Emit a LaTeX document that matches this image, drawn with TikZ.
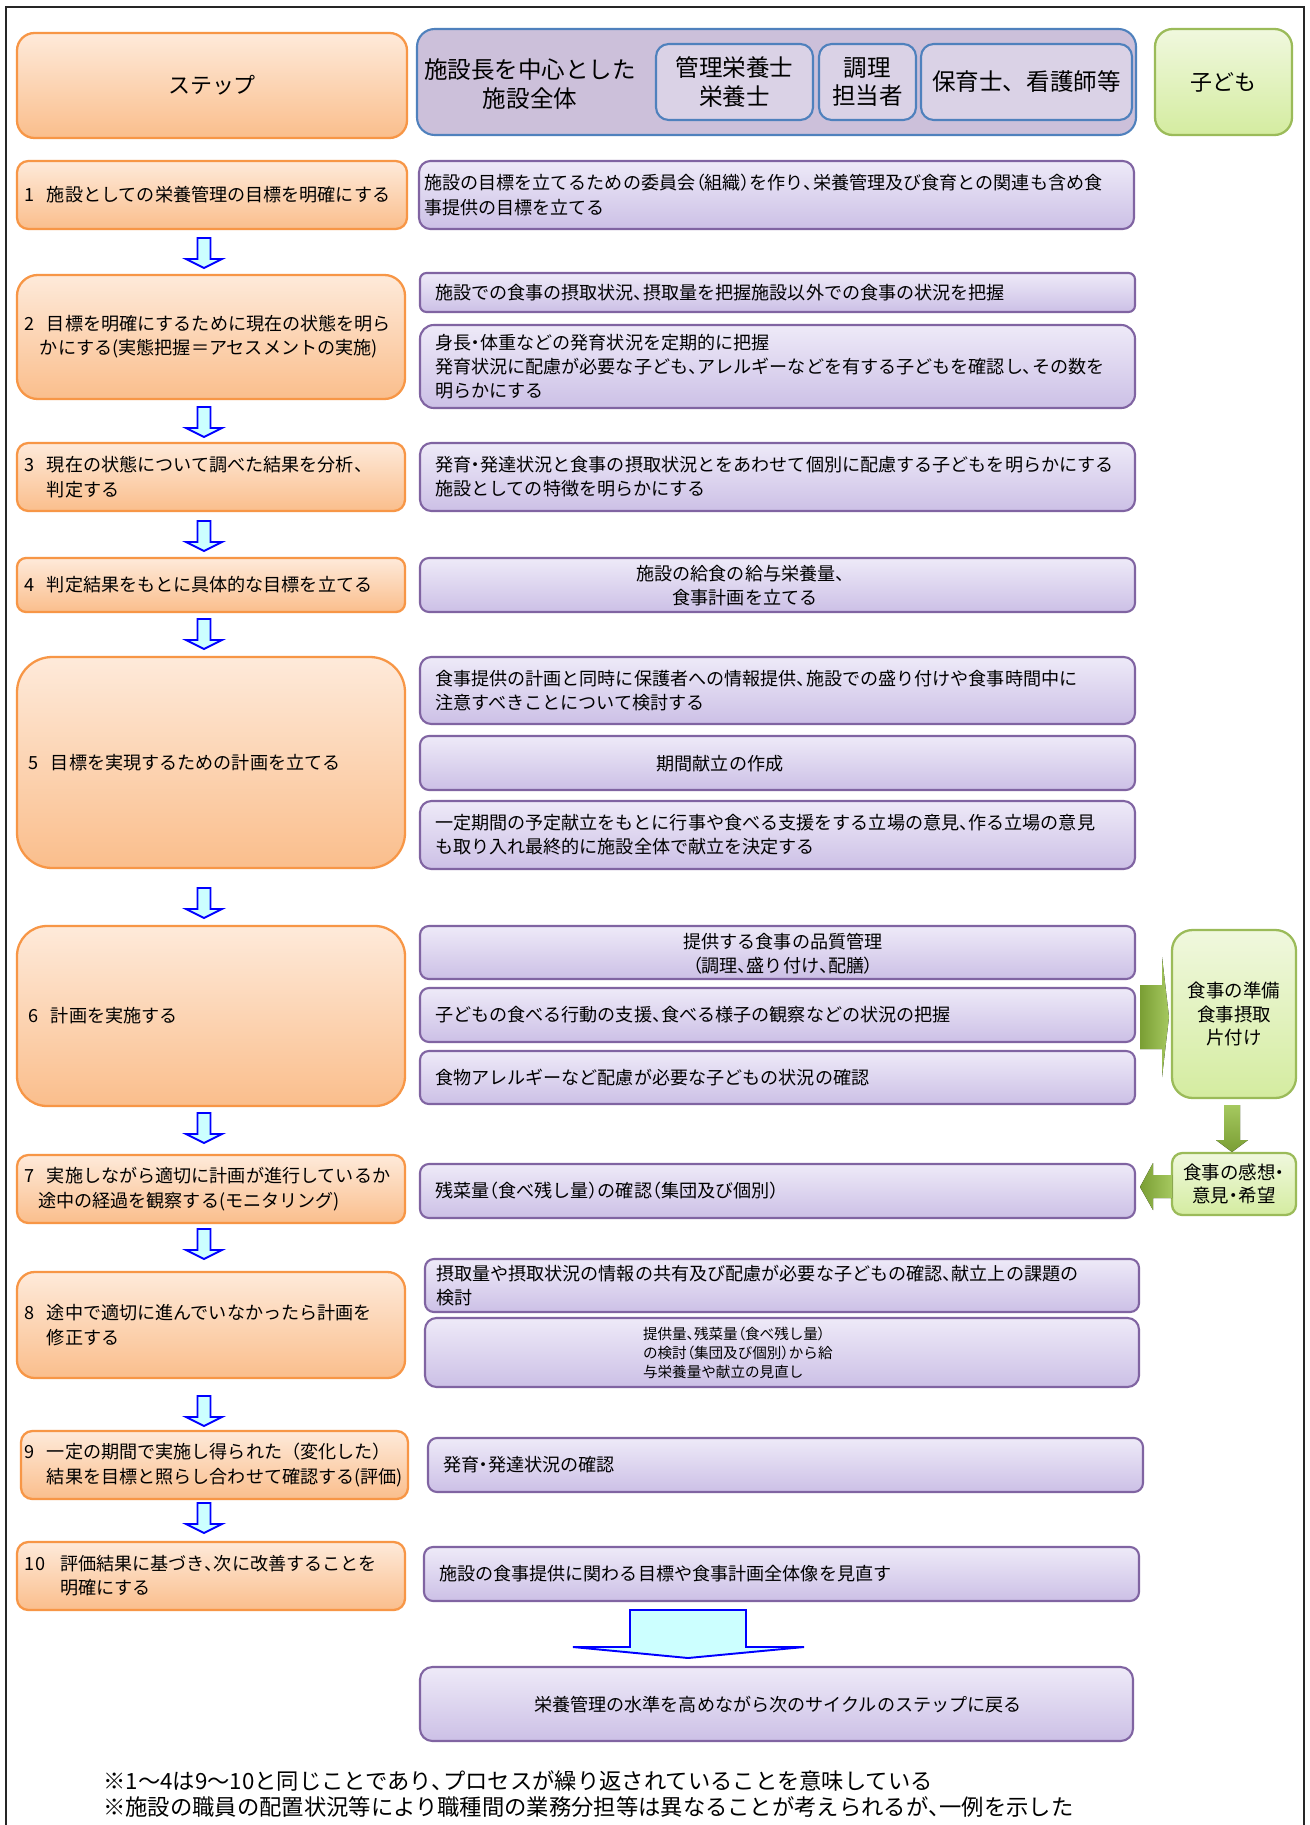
\documentclass[tikz,border=0pt]{standalone}
\usepackage{fontspec}
\setmainfont{Noto Sans CJK JP}
\newfontfamily\pfont{Noto Sans CJK JP}[RawFeature={+palt}]
\usetikzlibrary{calc}
\definecolor{orbd}{RGB}{247,150,70}
\definecolor{ortop}{RGB}{254,234,218}
\definecolor{orbot}{RGB}{250,190,140}
\definecolor{pubd}{RGB}{128,100,162}
\definecolor{putop}{RGB}{238,234,248}
\definecolor{pubot}{RGB}{204,192,230}
\definecolor{hdfill}{RGB}{204,192,218}
\definecolor{hdin}{RGB}{218,210,230}
\definecolor{hdbd}{RGB}{79,129,189}
\definecolor{grbd}{RGB}{155,187,89}
\definecolor{grtop}{RGB}{240,248,222}
\definecolor{grbot}{RGB}{212,236,160}
\definecolor{grdk}{RGB}{122,158,52}
\definecolor{grlt}{RGB}{165,200,95}
\definecolor{arfill}{RGB}{204,255,255}
\definecolor{arbd}{RGB}{0,0,255}
\newcommand\bodyf{\fontsize{10.3}{13.8}\selectfont}
\newcommand\hdf{\fontsize{13.4}{16.2}\selectfont}
\newcommand\hstf{\fontsize{12.5}{15}\selectfont}
\newcommand\grf{\fontsize{10.5}{13.3}\selectfont}
\newcommand\smf{\fontsize{8.3}{10.8}\selectfont}
\newcommand\notef{\fontsize{12.7}{14.8}\selectfont}
\newcommand\pcm{{\pfont 、}}
\newcommand\plp{{\pfont （}}
\newcommand\prp{{\pfont ）}}
\newcommand\pdot{{\pfont ・}}
\newcommand\stn[1]{\makebox[12.5pt][l]{#1}}
\newcommand\bx[9][]{%
 \pgfmathsetlengthmacro\bxw{(#6-#4)*0.02cm}%
 \pgfmathsetlengthmacro\bxh{(#7-#5)*0.02cm}%
 \pgfmathsetlengthmacro\bxr{min(#6-#4,#7-#5)/6*0.02cm}%
 \pgfmathsetlengthmacro\bxt{(#6-#4-2*#8)*0.02cm}%
 \node[#2, minimum width=\bxw, minimum height=\bxh, rounded corners=\bxr, text width=\bxt, #1] (#3) at ({(#4+#6)/2},{(#5+#7)/2}) {#9};}
\newcommand\bluedn[2]{%
 \coordinate (#1) at (204,#2);
 \draw[blarrow] (#1) ++(-6.5,0) -- ++(13,0) -- ++(0,21) -- ++(11.5,0) -- ++(-18,9) -- ++(-18,-9) -- ++(11.5,0) -- cycle;}
\tikzset{
 stepbox/.style={draw=orbd, line width=1.3pt, top color=ortop, bottom color=orbot, inner sep=0pt, align=left, font=\bodyf},
 pbox/.style={draw=pubd, line width=1.2pt, top color=putop, bottom color=pubot, inner sep=0pt, align=left, font=\bodyf},
 hbox/.style={draw=hdbd, line width=1.2pt, fill=hdfill, inner sep=0pt, align=center},
 hin/.style={draw=hdbd, line width=1.2pt, fill=hdin, inner sep=0pt, align=center, font=\hdf},
 gbox/.style={draw=grbd, line width=1.3pt, top color=grtop, bottom color=grbot, inner sep=0pt, align=center, font=\grf},
 blarrow/.style={draw=arbd, line width=1.1pt, fill=arfill, line join=miter},
 txt/.style={inner sep=0pt, align=center, font=\bodyf},
}
\begin{document}
\begin{tikzpicture}[x=0.02cm, y=-0.02cm]
\useasboundingbox (0,0) rectangle (1309,1825);
\fill[white] (0,0) rectangle (1309,1825);
\draw[line width=1.6pt, black!85] (6,7) rectangle (1304,1850);
% header
\bx[font=\hstf, align=center]{stepbox}{hs}{17}{33}{407}{138}{0}{ステップ}
\bx{hbox}{hall}{417}{29}{1136}{135}{0}{}
\node[txt, font=\hdf] (hallt) at (530,84) {施設長を中心とした\\施設全体};
\bx{hin}{hk}{656}{44}{813}{120}{0}{管理栄養士\\栄養士}
\bx{hin}{hc}{819}{44}{916}{120}{0}{調理\\担当者}
\bx{hin}{hh}{921}{44}{1132}{120}{0}{保育士、看護師等}
\bx[font=\hstf]{gbox}{hchild}{1155}{29}{1292}{135}{0}{子ども}
% row 1
\bx{stepbox}{s1}{17}{161}{407}{229}{8}{\stn{1}施設としての栄養管理の目標を明確にする}
\bx{pbox}{p1}{419}{161}{1134}{229}{5}{施設の目標を立てるための委員会\plp 組織\prp を作り\pcm 栄養管理及び食育との関連も含め食\\事提供の目標を立てる}
\bluedn{a1}{238}
% row 2
\bx{stepbox}{s2}{17}{275}{405}{399}{8}{\stn{2}目標を明確にするために現在の状態を明ら\\\hspace*{8.5pt}かにする(実態把握＝アセスメントの実施)}
\bx{pbox}{p2a}{420}{273}{1135}{312}{15}{施設での食事の摂取状況\pcm 摂取量を把握施設以外での食事の状況を把握}
\bx{pbox}{p2b}{420}{325}{1135}{408}{15}{身長\pdot 体重などの発育状況を定期的に把握\\発育状況に配慮が必要な子ども\pcm アレルギーなどを有する子どもを確認し\pcm その数を\\明らかにする}
\bluedn{a2}{407}
% row 3
\bx{stepbox}{s3}{17}{443}{405}{511}{8}{\stn{3}現在の状態について調べた結果を分析、\\\hspace*{12.5pt}判定する}
\bx{pbox}{p3}{420}{443}{1135}{511}{15}{発育\pdot 発達状況と食事の摂取状況とをあわせて個別に配慮する子どもを明らかにする\\施設としての特徴を明らかにする}
\bluedn{a3}{521}
% row 4
\bx{stepbox}{s4}{17}{558}{405}{612}{8}{\stn{4}判定結果をもとに具体的な目標を立てる}
\bx{pbox}{p4}{420}{558}{1135}{612}{0}{}
\node[txt] (p4t) at (745,586) {施設の給食の給与栄養量、\\食事計画を立てる};
\bluedn{a4}{619}
% row 5
\bx{stepbox}{s5}{17}{657}{405}{868}{12}{\stn{5}目標を実現するための計画を立てる}
\bx{pbox}{p5a}{420}{657}{1135}{724}{15}{食事提供の計画と同時に保護者への情報提供\pcm 施設での盛り付けや食事時間中に\\注意すべきことについて検討する}
\bx{pbox}{p5b}{420}{736}{1135}{790}{0}{}
\node[txt] (p5bt) at (720,764) {期間献立の作成};
\bx{pbox}{p5c}{420}{801}{1135}{869}{15}{一定期間の予定献立をもとに行事や食べる支援をする立場の意見\pcm 作る立場の意見\\も取り入れ最終的に施設全体で献立を決定する}
\bluedn{a5}{888}
% row 6
\bx{stepbox}{s6}{17}{926}{405}{1106}{12}{\stn{6}計画を実施する}
\bx{pbox}{p6a}{420}{926}{1135}{979}{0}{}
\node[txt] (p6at) at (783,954) {提供する食事の品質管理\\\plp 調理\pcm 盛り付け\pcm 配膳\prp};
\bx{pbox}{p6b}{420}{988}{1135}{1042}{15}{子どもの食べる行動の支援\pcm 食べる様子の観察などの状況の把握}
\bx{pbox}{p6c}{420}{1051}{1135}{1104}{15}{食物アレルギーなど配慮が必要な子どもの状況の確認}
\bx{gbox}{g1}{1172}{930}{1296}{1098}{0}{食事の準備\\食事摂取\\片付け}
\coordinate (gr) at (1140,985);
\fill[left color=grdk, right color=grlt] (gr) -- ++(22,0) -- ++(0,-28) -- ++(7,60) -- ++(-7,60) -- ++(0,-28) -- ++(-22,0) -- cycle;
\coordinate (gd) at (1224,1105);
\fill[top color=grlt, bottom color=grdk] (gd) -- ++(16,0) -- ++(0,35) -- ++(8,0) -- ++(-16,12) -- ++(-16,-12) -- ++(8,0) -- cycle;
\bluedn{a6}{1113}
% row 7
\bx{stepbox}{s7}{17}{1155}{405}{1223}{8}{\stn{7}実施しながら適切に計画が進行しているか\\\hspace*{7.5pt}途中の経過を観察する(モニタリング)}
\bx{pbox}{p7}{420}{1164}{1135}{1218}{15}{残菜量\plp 食べ残し量\prp の確認\plp 集団及び個別\prp}
\bx{gbox}{g2}{1172}{1153}{1296}{1215}{0}{食事の感想\pdot\\意見\pdot 希望}
\coordinate (gl) at (1172,1175);
\fill[left color=grdk, right color=grlt] (gl) -- ++(0,23) -- ++(-19,0) -- ++(0,12) -- ++(-13,-23) -- ++(13,-24) -- ++(0,12) -- cycle;
\bluedn{a7}{1229}
% row 8
\bx{stepbox}{s8}{17}{1272}{405}{1378}{8}{\stn{8}途中で適切に進んでいなかったら計画を\\\hspace*{12.5pt}修正する}
\bx{pbox}{p8a}{425}{1259}{1139}{1312}{11}{摂取量や摂取状況の情報の共有及び配慮が必要な子どもの確認\pcm 献立上の課題の\\検討}
\bx[font=\smf]{pbox}{p8b}{425}{1318}{1139}{1387}{218}{提供量\pcm 残菜量\plp 食べ残し量\prp\\の検討\plp 集団及び個別\prp から給\\与栄養量や献立の見直し}
\bluedn{a8}{1396}
% row 9
\bx{stepbox}{s9}{21}{1431}{408}{1499}{4}{\stn{9}一定の期間で実施し得られた（変化した）\\\hspace*{12.5pt}結果を目標と照らし合わせて確認する(評価)}
\bx{pbox}{p9}{428}{1438}{1143}{1492}{15}{発育\pdot 発達状況の確認}
\bluedn{a9}{1503}
% row 10
\bx{stepbox}{s10}{17}{1542}{405}{1610}{8}{\makebox[20pt][l]{10}評価結果に基づき\pcm 次に改善することを\\\hspace*{20pt}明確にする}
\bx{pbox}{p10}{424}{1547}{1139}{1601}{15}{施設の食事提供に関わる目標や食事計画全体像を見直す}
\coordinate (ba) at (630,1610);
\draw[blarrow] (ba) -- ++(116,0) -- ++(0,37) -- ++(58,0) -- ++(-116,11) -- ++(-115,-11) -- ++(57,0) -- cycle;
\bx{pbox}{pf}{420}{1667}{1133}{1741}{0}{}
\node[txt] (pft) at (778,1705) {栄養管理の水準を高めながら次のサイクルのステップに戻る};
% notes
\node[anchor=west, align=left, inner sep=0pt, font=\notef] (note) at (103,1794) {※1～4は9～10と同じことであり\pcm プロセスが繰り返されていることを意味している\\※施設の職員の配置状況等により職種間の業務分担等は異なることが考えられるが\pcm 一例を示した};
\end{tikzpicture}
\end{document}
